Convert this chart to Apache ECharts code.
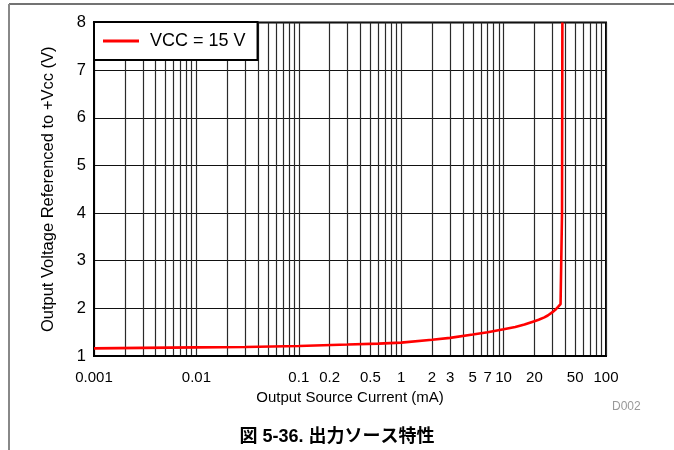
<!DOCTYPE html>
<html>
<head>
<meta charset="utf-8">
<script src="https://cdn.jsdelivr.net/npm/echarts@6/dist/echarts.min.js"></script>
<style>html,body{margin:0;padding:0;background:#fff}#c{width:674px;height:450px}</style>
</head>
<body>
<div id="c"></div>
<script>
// Output source current (mA)
const currentMA = [0.001, 0.003, 0.01, 0.03, 0.1, 0.3, 0.6, 1, 2, 3, 5, 7, 10, 13, 16, 20, 22, 25, 27, 30, 32, 34, 36, 37, 37.2, 37.5];
// Output voltage referenced to +Vcc (V)
const voltage = [1.16, 1.17, 1.18, 1.19, 1.21, 1.24, 1.26, 1.28, 1.34, 1.38, 1.45, 1.50, 1.56, 1.61, 1.66, 1.73, 1.76, 1.81, 1.85, 1.92, 1.97, 2.03, 2.09, 2.13, 4.0, 8.0];
const xLabelValues = [0.001, 0.01, 0.1, 0.2, 0.5, 1, 2, 3, 5, 7, 10, 20, 50, 100];
const xGridValues = [
  0.001,0.002,0.003,0.004,0.005,0.006,0.007,0.008,0.009,
  0.01,0.02,0.03,0.04,0.05,0.06,0.07,0.08,0.09,
  0.1,0.2,0.3,0.4,0.5,0.6,0.7,0.8,0.9,
  1,2,3,4,5,6,7,8,9,
  10,20,30,40,50,60,70,80,90,100];
const yTicks = [1, 2, 3, 4, 5, 6, 7, 8];
const seriesName = 'VCC = 15 V';

const chart = echarts.init(document.getElementById('c'), null, {renderer: 'canvas'});
const font = 'Liberation Sans, Arial, Helvetica, sans-serif';
chart.setOption({
  animation: false,
  backgroundColor: '#fff',
  grid: {left: 94, right: 68, top: 22.5, bottom: 94, show: true, borderColor: '#000', borderWidth: 2, containLabel: false},
  xAxis: {
    type: 'log', logBase: 10, min: 0.001, max: 100,
    name: 'Output Source Current (mA)', nameLocation: 'middle', nameGap: 33,
    nameTextStyle: {fontFamily: font, fontSize: 15, color: '#000'},
    axisLine: {show: true, lineStyle: {color: '#000', width: 2}},
    axisTick: {show: false, customValues: xGridValues},
    axisLabel: {customValues: xLabelValues, fontFamily: font, fontSize: 15, color: '#000', margin: 14,
      formatter: v => String(v)},
    splitLine: {show: true, lineStyle: {color: '#2a2a2a', width: 1.2}},
    minorSplitLine: {show: false}
  },
  yAxis: {
    type: 'value', min: 1, max: 8, interval: 1,
    name: 'Output Voltage Referenced to +Vcc (V)', nameLocation: 'middle', nameGap: 37,
    nameTextStyle: {fontFamily: font, fontSize: 16.5, color: '#000'},
    axisLine: {show: true, lineStyle: {color: '#000', width: 2}},
    axisTick: {show: false},
    axisLabel: {customValues: yTicks, fontFamily: font, fontSize: 16.5, color: '#000', margin: 8},
    splitLine: {show: true, lineStyle: {color: '#111', width: 1}}
  },
  legend: {
    left: 94, top: 22, orient: 'vertical',
    backgroundColor: '#fff', borderColor: '#000', borderWidth: 2, borderRadius: 0,
    padding: [10, 12, 10, 9], itemWidth: 36, itemHeight: 3, itemGap: 0,
    icon: 'rect',
    textStyle: {fontFamily: font, fontSize: 18, color: '#000', padding: [0, 0, 0, 6]},
    data: [seriesName]
  },
  series: [{
    name: seriesName, type: 'line', showSymbol: false, symbol: 'none',
    lineStyle: {color: '#ff0000', width: 2.6}, itemStyle: {color: '#ff0000'},
    data: currentMA.map((x, i) => [x, voltage[i]])
  }],
  graphic: [
    {type: 'line', shape: {x1: 9, y1: 4, x2: 674, y2: 4}, style: {stroke: '#444', lineWidth: 1.5}},
    {type: 'line', shape: {x1: 9, y1: 4, x2: 9, y2: 450}, style: {stroke: '#888', lineWidth: 2}},
    {type: 'text', left: 612, top: 401, style: {text: 'D002', fontFamily: font, fontSize: 12, fill: '#999'}},
    {type: 'text', left: 'center', top: 428, style: {text: '図 5-36. 出力ソース特性', fontFamily: 'Liberation Sans, "Noto Sans CJK JP", sans-serif', fontWeight: 'bold', fontSize: 18, fill: '#000'}}
  ]
});
</script>
</body>
</html>
